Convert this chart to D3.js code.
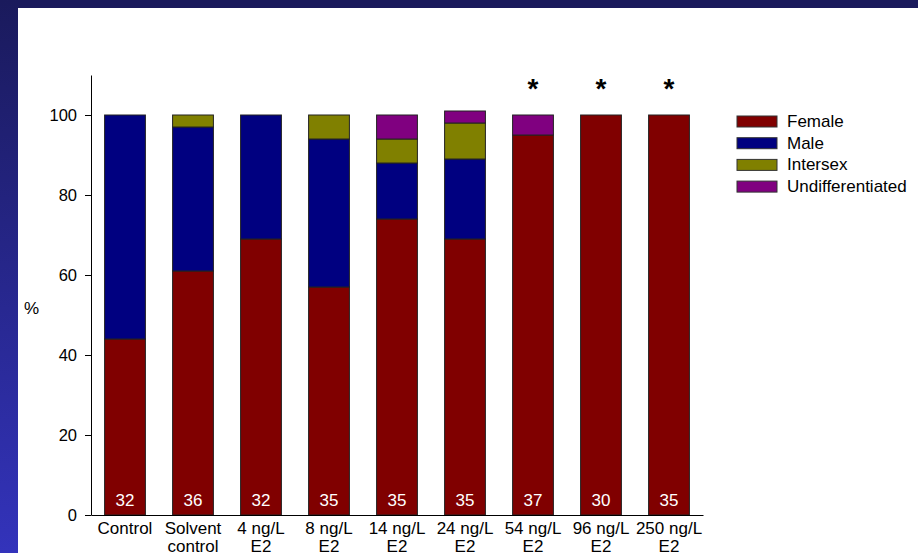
<!DOCTYPE html>
<html><head><meta charset="utf-8">
<script src="https://cdn.jsdelivr.net/npm/d3@7"></script>
<style>
html,body{margin:0;padding:0;background:#fff;}
svg{display:block;font-family:Arial,"Liberation Sans",sans-serif;}
</style></head>
<body>
<svg id="c" width="918" height="553"></svg>
<script>
const categories = [["Control"],["Solvent","control"],["4 ng/L","E2"],["8 ng/L","E2"],["14 ng/L","E2"],["24 ng/L","E2"],["54 ng/L","E2"],["96 ng/L","E2"],["250 ng/L","E2"]];
const seriesNames = ["Female","Male","Intersex","Undifferentiated"];
const female = [44, 61, 69, 57, 74, 69, 95, 100, 100];
const male = [56, 36, 31, 37, 14, 20, 0, 0, 0];
const intersex = [0, 3, 0, 6, 6, 9, 0, 0, 0];
const undiff = [0, 0, 0, 0, 6, 3, 5, 0, 0];
const nLabels = [32, 36, 32, 35, 35, 35, 37, 30, 35];
const significant = [false, false, false, false, false, false, true, true, true];
const yTicks = [0, 20, 40, 60, 80, 100];
const colors = ["#800000", "#000080", "#808000", "#800080"];

const svg = d3.select("#c");
// background frame
const defs = svg.append("defs");
const g1 = defs.append("linearGradient").attr("id","lg").attr("x1",0).attr("y1",0).attr("x2",0).attr("y2",1);
g1.append("stop").attr("offset","0%").attr("stop-color","#1a1a5c");
g1.append("stop").attr("offset","100%").attr("stop-color","#3333bb");
svg.append("rect").attr("x",0).attr("y",0).attr("width",918).attr("height",8).attr("fill","#1a1a5c");
svg.append("rect").attr("x",0).attr("y",0).attr("width",18).attr("height",553).attr("fill","url(#lg)");

const x = d3.scaleBand().domain(d3.range(categories.length)).range([91, 703]).paddingInner(0.4).paddingOuter(0.2);
const y = d3.scaleLinear().domain([0, 110]).range([515, 75]);

const keys = ["f","m","i","u"];
const rows = categories.map((c, i) => ({idx: i, f: female[i], m: male[i], i: intersex[i], u: undiff[i]}));
const stacked = d3.stack().keys(keys)(rows);

stacked.forEach((layer, li) => {
  svg.append("g").selectAll("rect").data(layer.filter(d => d[1] - d[0] > 0)).join("rect")
    .attr("x", d => x(d.data.idx))
    .attr("width", x.bandwidth())
    .attr("y", d => y(d[1]))
    .attr("height", d => y(d[0]) - y(d[1]))
    .attr("fill", colors[li])
    .attr("stroke", "#222")
    .attr("stroke-width", 1);
});

// y axis
const yAxis = d3.axisLeft(y).tickValues(yTicks).tickSize(6).tickSizeOuter(0).tickPadding(8);
const ya = svg.append("g").attr("transform","translate(91,0)").call(yAxis);
ya.selectAll("text").attr("font-size", 16.5).attr("fill","#000").attr("font-family","Arial,'Liberation Sans',sans-serif");
ya.selectAll("line,path").attr("stroke","#000");

// x axis
const xAxis = d3.axisBottom(x).tickSize(0).tickSizeOuter(0).tickFormat("");
const xa = svg.append("g").attr("transform","translate(0,515)").call(xAxis);
xa.selectAll("path").attr("stroke","#000");

// category labels
categories.forEach((lines, i) => {
  const t = svg.append("text").attr("x", x(i) + x.bandwidth()/2).attr("y", 534)
    .attr("text-anchor","middle").attr("font-size",17).attr("fill","#000");
  lines.forEach((ln, k) => t.append("tspan").attr("x", x(i) + x.bandwidth()/2).attr("dy", k === 0 ? 0 : 18).text(ln));
});

// n labels
svg.append("g").selectAll("text").data(nLabels).join("text")
  .attr("x", (d, i) => x(i) + x.bandwidth()/2)
  .attr("y", 506)
  .attr("text-anchor","middle").attr("font-size",17).attr("fill","#fff")
  .text(d => d);

// asterisks
svg.append("g").selectAll("text").data(significant.map((s,i)=>({s,i})).filter(d=>d.s)).join("text")
  .attr("x", d => x(d.i) + x.bandwidth()/2)
  .attr("y", 98)
  .attr("text-anchor","middle").attr("font-size",28).attr("font-weight","bold").attr("fill","#000")
  .text("*");

// y label
svg.append("text").attr("x", 24).attr("y", 314).attr("font-size",17).attr("fill","#000").text("%");

// legend
const leg = svg.append("g").attr("transform","translate(737,116)");
seriesNames.forEach((n, i) => {
  const gy = i * 21.7;
  leg.append("rect").attr("x",0).attr("y",gy).attr("width",40).attr("height",11)
    .attr("fill",colors[i]).attr("stroke","#333").attr("stroke-width",1);
  leg.append("text").attr("x",50).attr("y",gy+11).attr("font-size",17).attr("fill","#000").text(n);
});
</script>
</body></html>
